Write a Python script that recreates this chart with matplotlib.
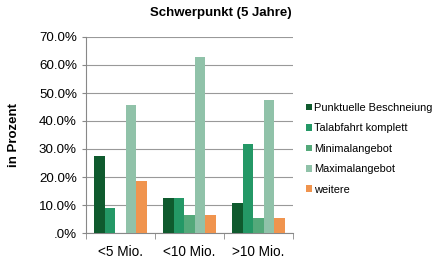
import matplotlib.pyplot as plt
import numpy as np
from matplotlib.ticker import FuncFormatter

plt.rcParams['font.family'] = ['Liberation Sans', 'DejaVu Sans']

categories = ['<5 Mio.', '<10 Mio.', '>10 Mio.']
series = ['Punktuelle Beschneiung', 'Talabfahrt komplett', 'Minimalangebot',
          'Maximalangebot', 'weitere']
punktuelle = [27.4, 12.6, 10.6]
talabfahrt = [9.1, 12.6, 31.8]
minimal = [0.0, 6.3, 5.4]
maximal = [45.6, 62.7, 47.6]
weitere = [18.4, 6.3, 5.4]
colors = ['#0f5a2e', '#249866', '#54a97a', '#90c2a9', '#f0944e']

values = [punktuelle, talabfahrt, minimal, maximal, weitere]

fig = plt.figure(figsize=(4.37, 2.59), dpi=100)
ax = fig.add_axes([86 / 437, 1 - 233 / 259, 207 / 437, 196 / 259])

x = np.arange(len(categories))
w = 0.153
for i, (name, vals) in enumerate(zip(series, values)):
    ax.bar(x + (i - 2) * w, vals, w, color=colors[i], label=name, zorder=3)

ax.set_xlim(-0.5, 2.5)
ax.set_ylim(0, 70)
ax.set_yticks(np.arange(0, 71, 10))
ax.yaxis.set_major_formatter(FuncFormatter(
    lambda v, p: '.0%' if v == 0 else f'{v:.1f}%'))
ax.set_xticks(x)
ax.set_xticklabels(categories, fontsize=9.8)
ax.set_xticks([-0.5, 0.5, 1.5, 2.5], minor=True)
ax.tick_params(axis='x', which='major', length=0, pad=9)
ax.tick_params(axis='x', which='minor', length=4, color='#888888')
ax.tick_params(axis='y', labelsize=9.6, length=3, color='#888888')
ax.grid(axis='y', color='#999999', linewidth=0.8, zorder=0)
for s in ['top', 'right']:
    ax.spines[s].set_visible(False)
ax.spines['left'].set_color('#888888')
ax.spines['bottom'].set_color('#888888')

ax.set_ylabel('in Prozent', fontsize=9.5, fontweight='bold', labelpad=14)
fig.text(221 / 437, 1 - 13 / 259, 'Schwerpunkt (5 Jahre)', fontsize=9.5,
         fontweight='bold', ha='center', va='center')

ax.legend(loc='center left', bbox_to_anchor=(1.04, 0.43), frameon=False,
          fontsize=7.9, handlelength=0.55, handleheight=0.55, handletextpad=0.25,
          labelspacing=0.95, borderaxespad=0)

fig.savefig('out.png', dpi=100)
